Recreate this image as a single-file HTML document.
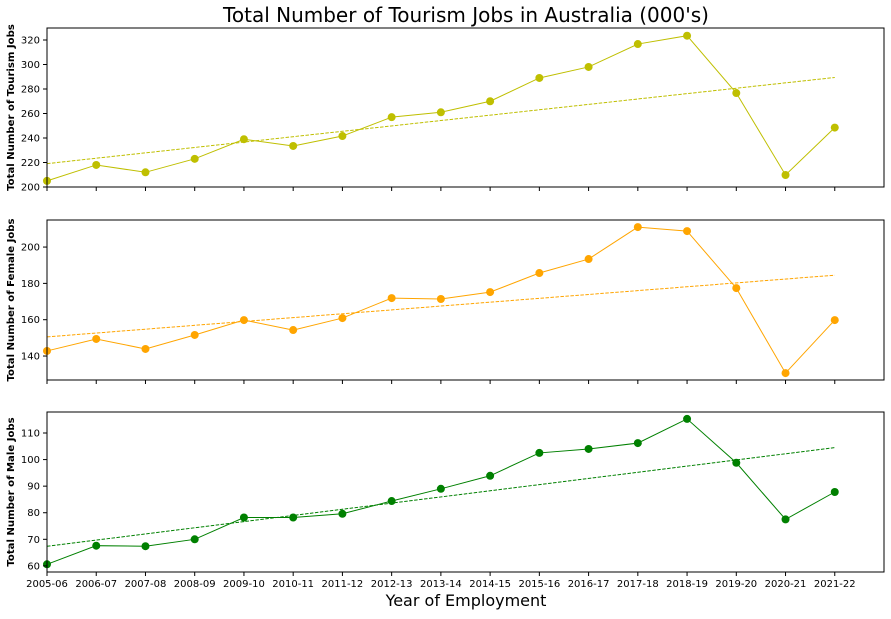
<!DOCTYPE html>
<html><head><meta charset="utf-8"><style>
body{margin:0;background:#fff;font-family:"DejaVu Sans","Liberation Sans",sans-serif;}
svg text{font-family:"DejaVu Sans","Liberation Sans",sans-serif;}
</style></head><body>
<svg id="chart" width="891" height="615" xmlns="http://www.w3.org/2000/svg">
<text x="466" y="22" text-anchor="middle" font-size="20">Total Number of Tourism Jobs in Australia (000's)</text>
<text x="466" y="606" text-anchor="middle" font-size="16">Year of Employment</text>
</svg>
<script>
const categories=["2005-06","2006-07","2007-08","2008-09","2009-10","2010-11","2011-12","2012-13","2013-14","2014-15","2015-16","2016-17","2017-18","2018-19","2019-20","2020-21","2021-22"];
const totalJobs=[205,218,212,223,239,233.5,241.6,257,261,270,289,298,316.7,323.5,276.7,209.8,248.5];
const femaleJobs=[142.8,149.4,143.9,151.6,159.8,154.3,160.9,171.9,171.4,175.2,185.7,193.4,211,208.8,177.4,130.6,159.8];
const maleJobs=[60.6,67.6,67.4,70,78.2,78.2,79.6,84.4,89,93.9,102.5,104,106.2,115.3,98.8,77.5,87.8];
const totalTicks=[200,220,240,260,280,300,320];
const femaleTicks=[140,160,180,200];
const maleTicks=[60,70,80,90,100,110];
const NS="http://www.w3.org/2000/svg";
const svg=document.getElementById('chart');
function mk(tag,attrs,parent){const e=document.createElementNS(NS,tag);for(const k in attrs)e.setAttribute(k,attrs[k]);(parent||svg).appendChild(e);return e;}
const X0=47,X1=884;
function xs(i){return X0+(X1-X0)*i/17;}
const panels=[
 {key:'total',vals:totalJobs,ticks:totalTicks,top:28,bot:187,ymin:200,ymax:329.8,color:'#bfbf00',label:'Total Number of Tourism Jobs'},
 {key:'female',vals:femaleJobs,ticks:femaleTicks,top:220,bot:380,ymin:126.8,ymax:214.9,color:'#ffa500',label:'Total Number of Female Jobs'},
 {key:'male',vals:maleJobs,ticks:maleTicks,top:412,bot:572,ymin:57.7,ymax:117.9,color:'#008000',label:'Total Number of Male Jobs'}
];
panels.forEach((p,pi)=>{
 const ys=v=>p.bot-(v-p.ymin)/(p.ymax-p.ymin)*(p.bot-p.top);
 const g=mk('g',{});
 
 
 const n=p.vals.length;let sx=0,sy=0,sxx=0,sxy=0;
 p.vals.forEach((v,i)=>{sx+=i;sy+=v;sxx+=i*i;sxy+=i*v;});
 const b=(n*sxy-sx*sy)/(n*sxx-sx*sx),a=(sy-b*sx)/n;
 const tr=mk('line',{x1:xs(0),y1:ys(a),x2:xs(n-1),y2:ys(a+b*(n-1)),stroke:p.color,'stroke-width':1,'stroke-dasharray':'3.5,1.5'},g);
 
 
 const pl=mk('polyline',{points:p.vals.map((v,i)=>xs(i)+','+ys(v)).join(' '),fill:'none',stroke:p.color,'stroke-width':1},g);
 
 
 p.vals.forEach((v,i)=>{
  const c=mk('circle',{cx:xs(i),cy:ys(v),r:4,fill:p.color},g);
  
  
 });
 const fr=mk('rect',{x:X0,y:p.top,width:X1-X0,height:p.bot-p.top,fill:'none',stroke:'#000','stroke-width':1},g);
 
 
 p.ticks.forEach(t=>{
  const y=ys(t);
  mk('line',{x1:X0-4,y1:y,x2:X0,y2:y,stroke:'#000'},g);
  const tx=mk('text',{x:X0-7,y:y+3.5,'text-anchor':'end','font-size':10},g);
  tx.textContent=t;
  
  
 });
 categories.forEach((c,i)=>{
  mk('line',{x1:xs(i),y1:p.bot,x2:xs(i),y2:p.bot+4,stroke:'#000'},g);
  if(pi===2){
   const tx=mk('text',{x:xs(i),y:p.bot+15,'text-anchor':'middle','font-size':10},g);
   tx.textContent=c;
   
   
  }
 });
 const cy=(p.top+p.bot)/2;
 const lb=mk('text',{x:14,y:cy,'text-anchor':'middle','font-size':10.1,'font-weight':'bold',transform:'rotate(-90 14 '+cy+')'},g);
 lb.textContent=p.label;
 
 
});
</script>
</body></html>
